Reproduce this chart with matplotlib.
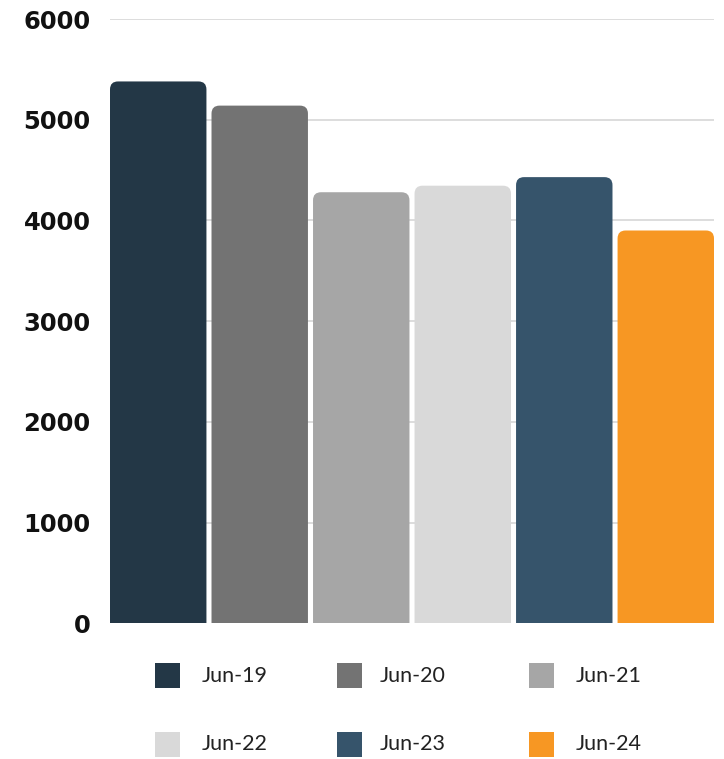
import matplotlib
matplotlib.use("Agg")
import matplotlib.pyplot as plt
from matplotlib.patches import FancyBboxPatch, Rectangle

categories = ["Jun-19", "Jun-20", "Jun-21", "Jun-22", "Jun-23", "Jun-24"]
values = [5380, 5140, 4280, 4345, 4430, 3900]
colors = ["#233746", "#737373", "#a6a6a6", "#d9d9d9", "#36546b", "#f79723"]
yticks = [0, 1000, 2000, 3000, 4000, 5000, 6000]

W, H, DPI = 724, 759, 100
fig = plt.figure(figsize=(W / DPI, H / DPI), dpi=DPI)
ax = fig.add_axes([110 / W, 1 - 623.3 / H, 604 / W, (623.3 - 19) / H])

bar_w = 0.95
ax.set_xlim(-0.475, len(categories) - 1 + 0.475)
ax.set_ylim(0, 6000)

# pixels per data unit, used to keep corner rounding circular
px_x = 604 / (len(categories) - 1 + 0.95)
px_y = (623.3 - 19) / 6000
aspect = px_x / px_y

for i, (v, c) in enumerate(zip(values, colors)):
    r = 8 / px_x
    patch = FancyBboxPatch((i - bar_w / 2, -200), bar_w, v + 200,
                           boxstyle=f"round,pad=0,rounding_size={r}",
                           mutation_aspect=aspect, fc=c, ec="none",
                           zorder=3, clip_on=True)
    ax.add_patch(patch)

ax.set_yticks(yticks)
ax.set_yticklabels([str(t) for t in yticks])
ax.tick_params(axis="y", length=0, pad=14, labelsize=17.5, labelcolor="#111111")
for lbl in ax.get_yticklabels():
    lbl.set_fontweight("bold")
    lbl.set_family("DejaVu Sans")
ax.set_xticks([])
for s in ax.spines.values():
    s.set_visible(False)
for t in yticks[1:]:
    ax.axhline(t, color="#d3d3d3", lw=1.1, zorder=1)

# legend: 3 columns x 2 rows
sq_x = [155, 337, 529]
txt_x = [202, 380, 576]
row_y = [675.7, 744]
sq = 25
for k, (name, c) in enumerate(zip(categories, colors)):
    row, col = divmod(k, 3)
    cy = row_y[row]
    fig.add_artist(Rectangle((sq_x[col] / W, 1 - (cy + sq / 2) / H), sq / W, sq / H,
                             transform=fig.transFigure, fc=c, ec="none"))
    fig.text(txt_x[col] / W, 1 - cy / H, name, ha="left", va="center",
             fontsize=15.5, color="#222222", family=["Lato", "DejaVu Sans"],
             fontweight="normal")

fig.savefig("out.png", dpi=DPI)
